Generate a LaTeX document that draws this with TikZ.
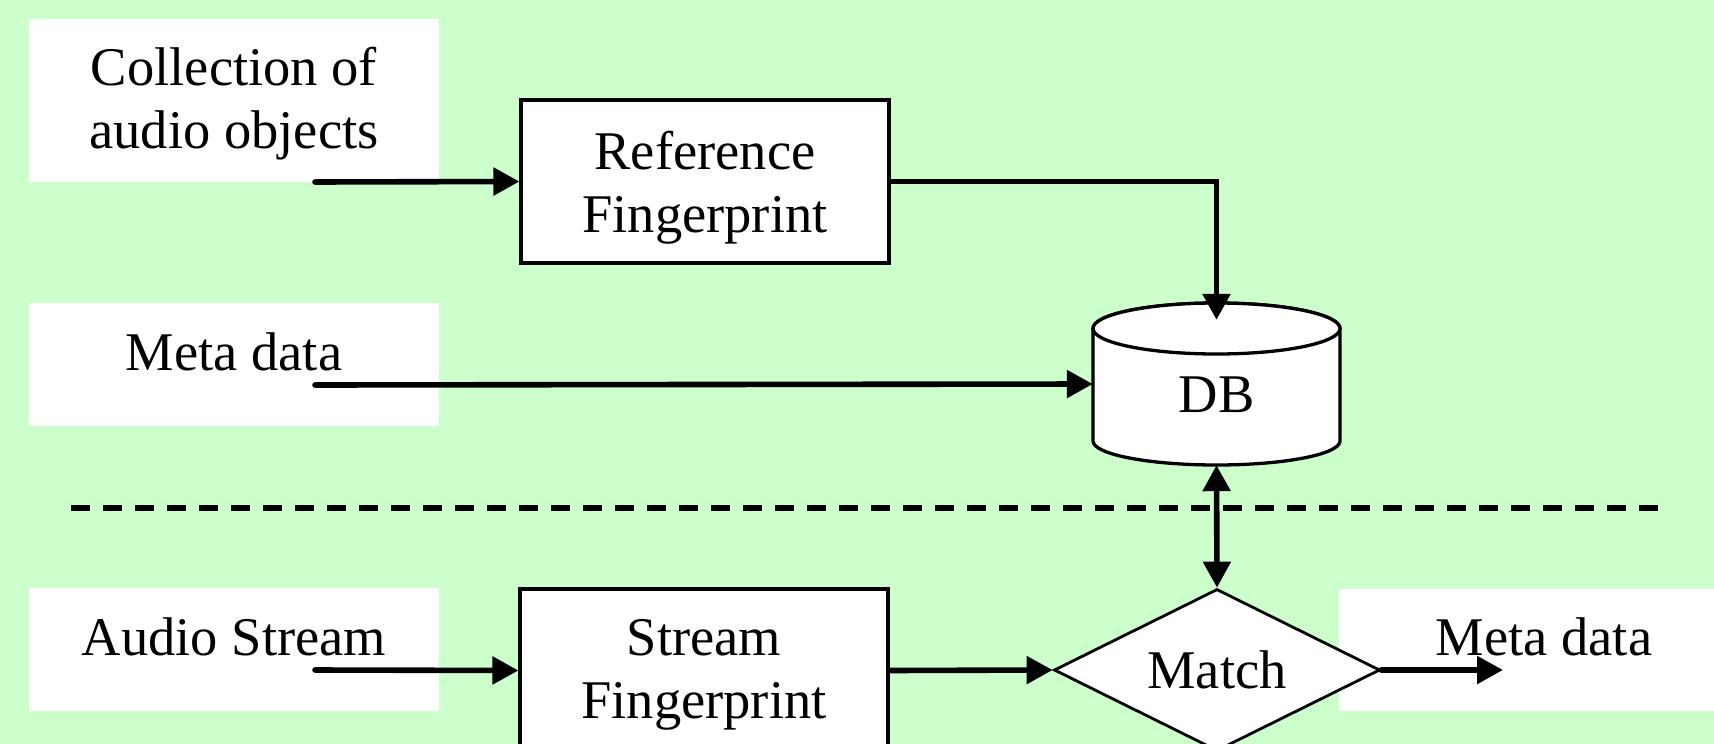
\documentclass[tikz,border=0pt]{standalone}
\usepackage{fontspec}
\setmainfont{Liberation Serif}
\usetikzlibrary{arrows.meta,shapes.geometric,calc}
\definecolor{bggreen}{RGB}{204,255,204}
\begin{document}
\begin{tikzpicture}[x=1pt,y=-1pt,
  every node/.style={font=\fontsize{54.5}{63}\selectfont, inner sep=0pt, align=center},
  lbox/.style={fill=white, minimum width=410pt, minimum height=#1},
  pbox/.style={draw, fill=white, line width=3.2pt, minimum width=368pt, minimum height=163pt},
  conn/.style={line width=5.6pt, line cap=round, -{Triangle[length=26pt,width=27pt]}},
  dconn/.style={line width=5.6pt, {Triangle[length=26pt,width=27pt]}-{Triangle[length=26pt,width=27pt]}},
  cyl/.style={draw, fill=white, line width=3.3pt},
  sep/.style={line width=6.8pt, dash pattern=on 19pt off 13pt},
]
\useasboundingbox (0,0) rectangle (1714,744);
\clip (0,0) rectangle (1714,744);
\fill[bggreen] (0,0) rectangle (1714,744);

% label boxes
\node[lbox=163pt, text height=105pt, text depth=10pt] (colbox) at (234,100.5) {Collection of\\audio objects};
\node[lbox=123pt, text height=40pt, text depth=29pt] (metabox) at (234,364.5) {Meta data};
\node[lbox=123pt, text height=40pt, text depth=29pt] (audiobox) at (234,649.5) {Audio Stream};
\node[lbox=122pt, text height=40pt, text depth=30pt] (outbox) at (1544,650) {Meta data};

% separator
\coordinate (dl) at (71,508);
\coordinate (dr) at (1666,508);
\draw[sep] (dl) -- (dr);

% process boxes
\node[pbox, text height=111pt, text depth=10pt] (refbox) at (705,181.5) {Reference\\Fingerprint};
\node[pbox, text height=105pt, text depth=10pt] (sfbox) at (704,670.5) {Stream\\Fingerprint};

% database cylinder
\draw[cyl] (1093,328.5) -- (1093,441) arc[start angle=180,end angle=0,x radius=123.5,y radius=24]
  -- (1340,328.5) arc[start angle=0,end angle=-180,x radius=123.5,y radius=25.5] -- cycle;
\draw[cyl] (1216.5,328.5) ellipse[x radius=123.5, y radius=25.5];
\node[minimum width=247pt, minimum height=162pt, text height=66pt, text depth=10pt] (db) at (1216.5,384) {DB};

% match diamond
\node[diamond, draw, fill=white, line width=2.8pt, shape aspect=2,
      minimum width=326pt, minimum height=162pt, text height=36pt, text depth=0pt] (match) at (1217,670) {Match};

% connectors
\coordinate (s1) at (315,182);
\coordinate (s2) at (315,385);
\coordinate (s3) at (315,670);
\coordinate (e5) at (1503,670);
\draw[conn] (s1) -- (refbox.west);
\draw[conn] (refbox.east) -| ($(db.north)+(0,17)$);
\draw[conn] (s2) -- (db.west);
\draw[dconn] (db.south) -- (match.north);
\draw[conn] (s3) -- (sfbox.west);
\draw[conn] (sfbox.east) -- (match.west);
\draw[conn] (match.east) -- (e5);
\end{tikzpicture}
\end{document}
